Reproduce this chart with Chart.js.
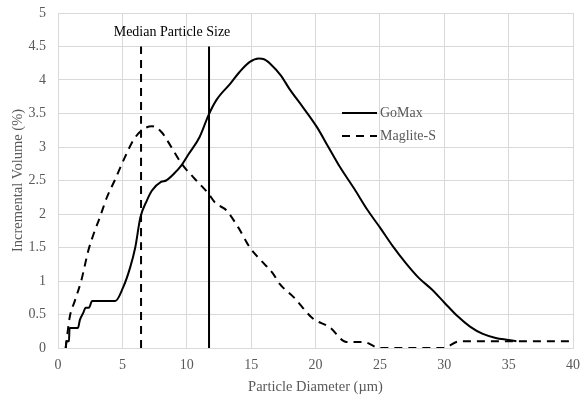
<!DOCTYPE html>
<html>
<head>
<meta charset="utf-8">
<script src="https://cdn.jsdelivr.net/npm/chart.js@4/dist/chart.umd.min.js"></script>
<style>
  html, body { margin: 0; padding: 0; background: #fff; }
  #wrap { width: 580px; height: 399px; position: relative; }
</style>
</head>
<body>
<div id="wrap"><canvas id="c" width="580" height="399"></canvas></div>
<script>
// ---- data ----
const seriesNames = ['GoMax', 'Maglite-S'];
const gomaxX = [0.6, 0.65, 0.85, 0.9, 1.55, 1.7, 1.95, 2.15, 2.4, 2.65, 4.45, 5.05, 5.6, 6.0, 6.4, 6.9, 7.3, 8.0, 8.4, 9.0, 9.6, 10.1, 11.0, 11.7, 12.3, 13.4, 14.1, 14.9, 15.6, 16.0, 16.5, 17.3, 18.0, 19.0, 20.1, 21.0, 21.9, 23.0, 24.0, 25.0, 26.0, 27.0, 28.0, 29.0, 30.0, 31.0, 32.0, 33.0, 34.0, 35.0, 35.6];
const gomaxY = [0, 0.1, 0.1, 0.3, 0.3, 0.42, 0.52, 0.6, 0.6, 0.7, 0.7, 0.9, 1.2, 1.5, 1.95, 2.2, 2.35, 2.48, 2.5, 2.6, 2.73, 2.88, 3.15, 3.48, 3.7, 3.95, 4.12, 4.27, 4.32, 4.31, 4.24, 4.07, 3.86, 3.6, 3.3, 3.0, 2.7, 2.38, 2.07, 1.8, 1.52, 1.27, 1.05, 0.88, 0.68, 0.48, 0.32, 0.21, 0.15, 0.12, 0.1];
const magliteX = [0.6, 0.9, 1.3, 1.8, 2.35, 2.8, 3.25, 3.8, 4.4, 5.2, 5.85, 6.5, 7.3, 8.05, 8.8, 9.6, 10.5, 11.7, 12.2, 13.1, 14.0, 14.9, 15.8, 16.7, 17.2, 18.3, 19.8, 21.1, 22.4, 23.7, 25.0, 27.0, 29.9, 31.2, 32.8, 36.0, 40.0];
const magliteY = [0, 0.45, 0.7, 1.0, 1.45, 1.72, 1.95, 2.25, 2.5, 2.85, 3.1, 3.25, 3.31, 3.22, 3.0, 2.75, 2.55, 2.3, 2.17, 2.05, 1.8, 1.5, 1.3, 1.11, 0.96, 0.76, 0.44, 0.31, 0.09, 0.09, 0, 0, 0, 0.1, 0.1, 0.1, 0.1];
const medianX = [11.73, 6.45];      // GoMax, Maglite-S median particle size
const medianTop = [4.5, 4.5];
const medianLabel = 'Median Particle Size';
const xTitle = 'Particle Diameter (\u00b5m)';
const yTitle = 'Incremental Volume (%)';
const xMin = 0, xMax = 40, xStep = 5;
const yMin = 0, yMax = 5, yStep = 0.5;

// ---- build datasets ----
const dash = [8, 6];
const toPts = (xs, ys) => xs.map((x, i) => ({ x: x, y: ys[i] }));
const datasets = [
  { label: seriesNames[0], data: toPts(gomaxX, gomaxY), borderDash: [] },
  { label: seriesNames[1], data: toPts(magliteX, magliteY), borderDash: dash },
  { label: 'median0', data: [{ x: medianX[0], y: 0 }, { x: medianX[0], y: medianTop[0] }], borderDash: [] },
  { label: 'median1', data: [{ x: medianX[1], y: 0 }, { x: medianX[1], y: medianTop[1] }], borderDash: dash }
].map(d => Object.assign({
  showLine: true, borderColor: '#000', backgroundColor: '#000', borderWidth: 2,
  pointRadius: 0, cubicInterpolationMode: 'monotone', fill: false
}, d));

const serif = '"Liberation Serif", "Times New Roman", serif';
const grey = '#595959';

const overlay = {
  id: 'overlay',
  afterDatasetsDraw(chart) {
    const ctx = chart.ctx;
    ctx.save();
    // median label
    ctx.font = '14px ' + serif;
    ctx.fillStyle = '#000';
    ctx.textAlign = 'center';
    ctx.textBaseline = 'middle';
    ctx.fillText(medianLabel, 172, 32);
    // legend
    const lx0 = 342, lx1 = 377, ly = [113, 136];
    ctx.textAlign = 'left';
    ctx.fillStyle = grey;
    for (let i = 0; i < 2; i++) {
      ctx.beginPath();
      ctx.strokeStyle = '#000';
      ctx.lineWidth = 2;
      ctx.setLineDash(i === 0 ? [] : dash);
      ctx.moveTo(lx0, ly[i]);
      ctx.lineTo(lx1, ly[i]);
      ctx.stroke();
      ctx.setLineDash([]);
      ctx.fillText(seriesNames[i], lx1 + 3, ly[i]);
    }
    ctx.restore();
  }
};

new Chart(document.getElementById('c'), {
  type: 'scatter',
  data: { datasets: datasets },
  options: {
    responsive: false,
    animation: false,
    layout: { padding: { top: 13, right: 7, left: 0, bottom: 0 } },
    plugins: { legend: { display: false }, tooltip: { enabled: false } },
    scales: {
      x: {
        type: 'linear', min: xMin, max: xMax,
        afterFit: s => { s.height = 51; s.paddingLeft = 0; s.paddingRight = 0; },
        afterBuildTicks: s => { const t = []; for (let v = xMin; v <= xMax + 1e-9; v += xStep) t.push({ value: v }); s.ticks = t; },
        grid: { color: '#d9d9d9', lineWidth: 1, drawTicks: false },
        border: { color: '#d9d9d9', width: 1 },
        ticks: { color: grey, font: { family: serif, size: 14 }, padding: 9, maxRotation: 0 },
        title: { display: true, text: xTitle, color: grey, font: { family: serif, size: 14.5 }, padding: { top: 0, bottom: 3 } }
      },
      y: {
        type: 'linear', min: yMin, max: yMax,
        afterFit: s => { s.width = 58; s.paddingTop = 0; s.paddingBottom = 0; },
        afterBuildTicks: s => { const t = []; for (let v = yMin; v <= yMax + 1e-9; v += yStep) t.push({ value: Math.round(v * 10) / 10 }); s.ticks = t; },
        grid: { color: '#d9d9d9', lineWidth: 1, drawTicks: false },
        border: { color: '#d9d9d9', width: 1 },
        ticks: { color: grey, font: { family: serif, size: 14 }, padding: 12, callback: v => String(v) },
        title: { display: true, text: yTitle, color: grey, font: { family: serif, size: 14.5 }, padding: { top: 9, bottom: 0 } }
      }
    }
  },
  plugins: [overlay]
});
</script>
</body>
</html>
